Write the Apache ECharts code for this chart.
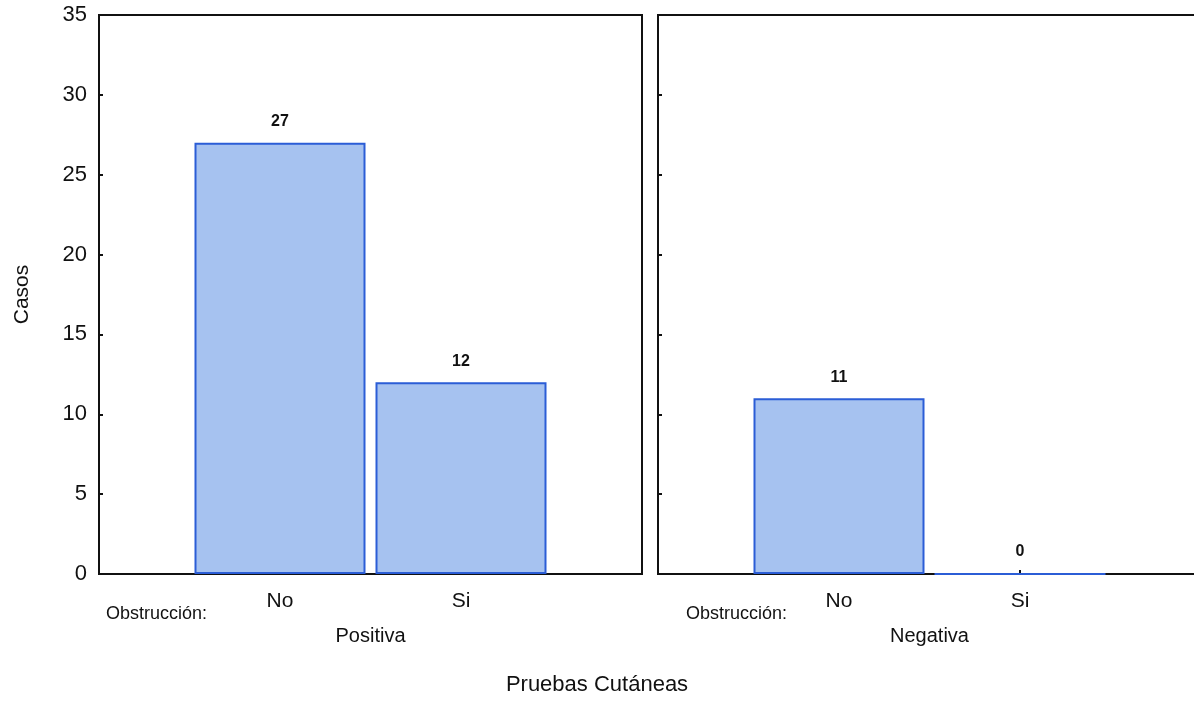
<!DOCTYPE html>
<html>
<head>
<meta charset="utf-8">
<script src="https://cdn.jsdelivr.net/npm/echarts@6/dist/echarts.min.js"></script>
<style>
html,body{margin:0;padding:0;background:#fff;}
#chart{width:1194px;height:702px;}
</style>
</head>
<body>
<div id="chart"></div>
<script>
const categories = ['No', 'Si'];
const panelNames = ['Positiva', 'Negativa'];
const positivaValues = [27, 12];
const negativaValues = [11, 0];
const yAxisTitle = 'Casos';
const xAxisTitle = 'Pruebas Cutáneas';
const groupLabel = 'Obstrucción:';

const FONT = "'Liberation Sans', Arial, Helvetica, sans-serif";
const INK = '#111';

function catLabel(v) {
  const i = Math.round(v) - 1;
  return (Math.abs(v - Math.round(v)) < 1e-6 && i >= 0 && i < categories.length) ? categories[i] : '';
}

function makeX(idx, name) {
  return {
    type: 'value', gridIndex: idx, min: 0, max: 3, interval: 1,
    name: name, nameLocation: 'middle', nameGap: 52,
    nameTextStyle: { fontFamily: FONT, fontSize: 20, color: INK },
    axisLine: { show: true, lineStyle: { color: INK, width: 2 } },
    axisTick: { show: true, inside: true, length: 4, lineStyle: { color: INK, width: 2 } },
    axisLabel: { formatter: catLabel, fontFamily: FONT, fontSize: 21, color: INK, margin: 17 },
    splitLine: { show: false }
  };
}
function makeY(idx, showLabels) {
  return {
    type: 'value', gridIndex: idx, min: 0, max: 35, interval: 5,
    name: showLabels ? yAxisTitle : '', nameLocation: 'middle', nameGap: 66,
    nameTextStyle: { fontFamily: FONT, fontSize: 21, color: INK },
    axisLine: { show: true, lineStyle: { color: INK, width: 2 } },
    axisTick: { show: true, inside: true, length: 4, lineStyle: { color: INK, width: 2 } },
    axisLabel: { show: showLabels, fontFamily: FONT, fontSize: 22, color: INK, margin: 12 },
    splitLine: { show: false }
  };
}
function makeSeries(idx, values) {
  return {
    type: 'bar', xAxisIndex: idx, yAxisIndex: idx,
    data: values.map((v, i) => [i + 1, v]),
    barWidth: 171,
    itemStyle: { color: '#a6c2f0', borderColor: '#2b5dd6', borderWidth: 2 },
    label: { show: true, position: 'top', distance: 13, fontFamily: FONT, fontWeight: 'bold', fontSize: 16, color: INK },
    silent: true, animation: false
  };
}

const chart = echarts.init(document.getElementById('chart'), null, { renderer: 'canvas' });
chart.setOption({
  animation: false,
  backgroundColor: '#fff',
  grid: [
    { left: 99, top: 15, width: 543, height: 559, show: true, borderColor: INK, borderWidth: 2, containLabel: false, outerBoundsMode: 'none' },
    { left: 658, top: 15, width: 543, height: 559, show: true, borderColor: INK, borderWidth: 2, containLabel: false, outerBoundsMode: 'none' }
  ],
  title: [
    { text: groupLabel, left: 106, top: 605, textStyle: { fontFamily: FONT, fontSize: 18, fontWeight: 'normal', color: INK }, padding: 0 },
    { text: groupLabel, left: 686, top: 605, textStyle: { fontFamily: FONT, fontSize: 18, fontWeight: 'normal', color: INK }, padding: 0 },
    { text: xAxisTitle, left: 'center', top: 674, textStyle: { fontFamily: FONT, fontSize: 22, fontWeight: 'normal', color: INK }, padding: 0 }
  ],
  xAxis: [makeX(0, panelNames[0]), makeX(1, panelNames[1])],
  yAxis: [makeY(0, true), makeY(1, false)],
  series: [makeSeries(0, positivaValues), makeSeries(1, negativaValues)]
});
</script>
</body>
</html>
